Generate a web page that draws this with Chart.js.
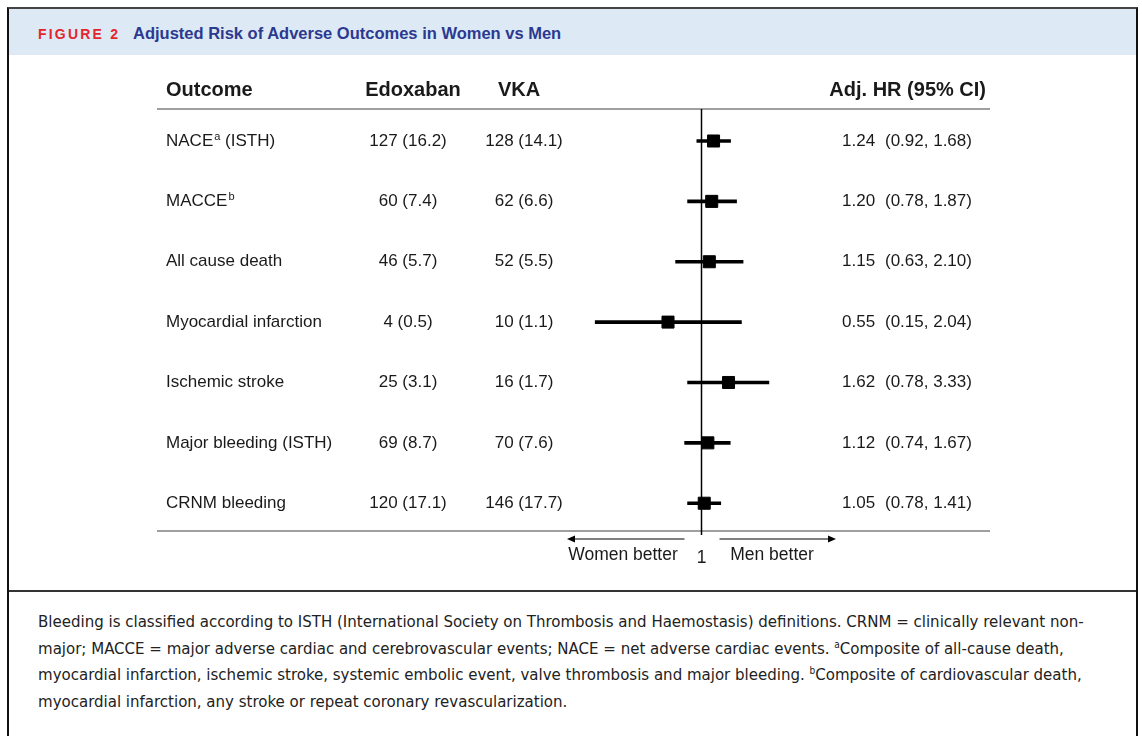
<!DOCTYPE html>
<html lang="en">
<head>
  <meta charset="UTF-8">
  <title>Adjusted Risk of Adverse Outcomes in Women vs Men</title>
  <style>
    body {
      margin: 0;
      width: 1142px;
      height: 736px;
      overflow: hidden;
      background: #fff;
      position: relative;
      font-family: "Liberation Sans", Arial, sans-serif;
    }
    .frame {
      position: absolute;
      left: 7px;
      top: 7px;
      width: 1127px;
      height: 760px;
      border-left: 2px solid #111;
      border-right: 2px solid #111;
      border-top: 2px solid #444;
    }
    .header {
      position: absolute;
      left: 9px;
      top: 9px;
      width: 1127px;
      height: 46px;
      background: #dde9f5;
    }
    .fig-label {
      position: absolute;
      left: 38px;
      top: 26px;
      color: #e3262d;
      font-weight: bold;
      font-size: 14px;
      letter-spacing: 2.2px;
    }
    .fig-title {
      position: absolute;
      left: 133px;
      top: 24px;
      color: #2b3990;
      font-weight: bold;
      font-size: 16.5px;
    }
    .divider {
      position: absolute;
      left: 9px;
      top: 590px;
      width: 1127px;
      height: 2px;
      background: #333;
    }
    .caption {
      position: absolute;
      left: 38px;
      top: 608px;
      font-family: "Liberation Sans Narrow", "DejaVu Sans Condensed", sans-serif;
      font-size: 16.7px;
      line-height: 26.6px;
      color: #222;
      white-space: nowrap;
    }
    .caption sup {
      font-size: 10px;
      line-height: 0;
      vertical-align: 0;
      position: relative;
      top: -6px;
    }
    canvas {
      position: absolute;
      left: 0;
      top: 0;
    }
  </style>
</head>
<body>
  <div class="frame"></div>
  <div class="header"></div>
  <div class="fig-label">FIGURE 2</div>
  <div class="fig-title">Adjusted Risk of Adverse Outcomes in Women vs Men</div>
  <div class="divider"></div>
  <div class="caption">
    Bleeding is classified according to ISTH (International Society on Thrombosis and Haemostasis) definitions. CRNM = clinically relevant non-<br>
    major; MACCE = major adverse cardiac and cerebrovascular events; NACE = net adverse cardiac events. <sup>a</sup>Composite of all-cause death,<br>
    myocardial infarction, ischemic stroke, systemic embolic event, valve thrombosis and major bleeding. <sup>b</sup>Composite of cardiovascular death,<br>
    myocardial infarction, any stroke or repeat coronary revascularization.
  </div>
  <canvas id="forest" width="1142" height="736"></canvas>

  <script src="https://cdn.jsdelivr.net/npm/chart.js"></script>
  <script>
    // table data, one entry per row
    const outcomes = ['NACE', 'MACCE', 'All cause death', 'Myocardial infarction', 'Ischemic stroke', 'Major bleeding (ISTH)', 'CRNM bleeding'];
    const outcomeMarks = ['a', 'b', '', '', '', '', ''];
    const outcomeTails = [' (ISTH)', '', '', '', '', '', ''];
    const edoxaban = ['127 (16.2)', '60 (7.4)', '46 (5.7)', '4 (0.5)', '25 (3.1)', '69 (8.7)', '120 (17.1)'];
    const vka = ['128 (14.1)', '62 (6.6)', '52 (5.5)', '10 (1.1)', '16 (1.7)', '70 (7.6)', '146 (17.7)'];
    const hr = [1.24, 1.20, 1.15, 0.55, 1.62, 1.12, 1.05];
    const ciLow = [0.92, 0.78, 0.63, 0.15, 0.78, 0.74, 0.78];
    const ciHigh = [1.68, 1.87, 2.10, 2.04, 3.33, 1.67, 1.41];
    const headers = ['Outcome', 'Edoxaban', 'VKA', 'Adj. HR (95% CI)'];

    const font = (size, bold) => (bold ? 'bold ' : '') + size + 'px "Liberation Sans", Arial, sans-serif';
    const ink = '#1a1a1a';

    function arrow(ctx, x1, x2, y) {
      const dir = x2 > x1 ? 1 : -1;
      ctx.beginPath();
      ctx.moveTo(x1, y);
      ctx.lineTo(x2 - dir * 6, y);
      ctx.stroke();
      ctx.beginPath();
      ctx.moveTo(x2, y);
      ctx.lineTo(x2 - dir * 8, y - 3.5);
      ctx.lineTo(x2 - dir * 8, y + 3.5);
      ctx.closePath();
      ctx.fill();
    }

    const tablePlugin = {
      id: 'table',
      beforeDatasetsDraw(chart) {
        const ctx = chart.ctx;
        const area = chart.chartArea;
        const x1 = chart.scales.x.getPixelForValue(1);
        ctx.save();
        // rules above and below the rows
        ctx.strokeStyle = '#808080';
        ctx.lineWidth = 1.5;
        ctx.beginPath();
        ctx.moveTo(157, area.top);
        ctx.lineTo(990, area.top);
        ctx.moveTo(157, area.bottom);
        ctx.lineTo(990, area.bottom);
        ctx.stroke();
        // line of no effect
        ctx.strokeStyle = '#000';
        ctx.lineWidth = 1.5;
        ctx.beginPath();
        ctx.moveTo(x1, area.top);
        ctx.lineTo(x1, area.bottom + 4);
        ctx.stroke();
        ctx.restore();
      },
      afterDraw(chart) {
        const ctx = chart.ctx;
        const area = chart.chartArea;
        const y = chart.scales.y;
        const x1 = chart.scales.x.getPixelForValue(1);
        ctx.save();
        ctx.fillStyle = ink;
        ctx.textBaseline = 'middle';

        // column headers
        const hy = area.top - 19;
        ctx.font = font(20, true);
        ctx.textAlign = 'left';
        ctx.fillText(headers[0], 166, hy);
        ctx.textAlign = 'center';
        ctx.fillText(headers[1], 413, hy);
        ctx.fillText(headers[2], 519, hy);
        ctx.textAlign = 'right';
        ctx.fillText(headers[3], 986, hy);

        // rows
        outcomes.forEach((name, i) => {
          const ry = y.getPixelForValue(i);
          ctx.font = font(17);
          ctx.textAlign = 'left';
          ctx.fillText(name, 166, ry);
          let cx = 166 + ctx.measureText(name).width;
          if (outcomeMarks[i]) {
            ctx.font = font(11);
            ctx.fillText(outcomeMarks[i], cx + 1, ry - 4);
            cx += ctx.measureText(outcomeMarks[i]).width + 1;
            ctx.font = font(17);
            ctx.fillText(outcomeTails[i], cx, ry);
          }
          ctx.textAlign = 'center';
          ctx.fillText(edoxaban[i], 408, ry);
          ctx.fillText(vka[i], 524, ry);
          ctx.textAlign = 'left';
          ctx.fillText(hr[i].toFixed(2), 842, ry);
          ctx.fillText('(' + ciLow[i].toFixed(2) + ', ' + ciHigh[i].toFixed(2) + ')', 885, ry);
        });

        // direction arrows under the axis
        const ay = area.bottom + 8;
        ctx.strokeStyle = '#000';
        ctx.fillStyle = '#000';
        ctx.lineWidth = 1;
        arrow(ctx, x1 - 17, 567, ay);
        arrow(ctx, x1 + 18, 836, ay);
        ctx.fillStyle = ink;
        ctx.font = font(17.5);
        ctx.textAlign = 'center';
        ctx.fillText('Women better', 623, ay + 16);
        ctx.fillText('Men better', 772, ay + 16);
        ctx.fillText('1', x1, ay + 19);
        ctx.restore();
      }
    };

    const ctx = document.getElementById('forest').getContext('2d');
    new Chart(ctx, {
      type: 'bar',
      data: {
        datasets: [
          {
            type: 'scatter',
            indexAxis: 'x',
            data: hr.map((v, i) => ({ x: v, y: i })),
            pointStyle: 'rect',
            pointRadius: 8.5,
            backgroundColor: '#000',
            borderColor: '#000',
            borderWidth: 1,
            order: 1
          },
          {
            type: 'bar',
            data: hr.map((_, i) => ({ y: i, x: [ciLow[i], ciHigh[i]] })),
            backgroundColor: '#000',
            borderWidth: 0,
            barThickness: 3,
            order: 2
          }
        ]
      },
      options: {
        indexAxis: 'y',
        responsive: false,
        animation: false,
        layout: { padding: { left: 572.5, right: 311.5, top: 109, bottom: 205 } },
        scales: {
          x: { type: 'logarithmic', min: 0.1, max: 10, display: false },
          y: { type: 'linear', min: -0.53, max: 6.46, reverse: true, offset: false, display: false }
        },
        plugins: {
          legend: { display: false },
          tooltip: { enabled: false }
        }
      },
      plugins: [tablePlugin]
    });
  </script>
</body>
</html>
